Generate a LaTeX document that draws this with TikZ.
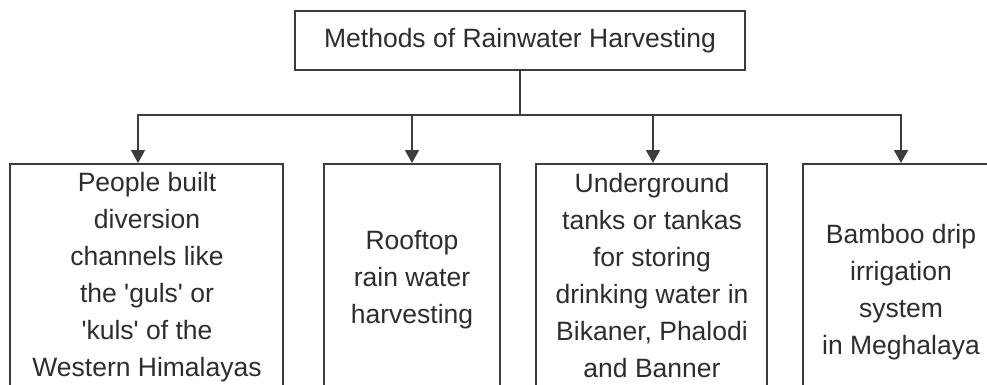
\documentclass[tikz,border=0pt]{standalone}
\usepackage{fontspec}
\setmainfont{Liberation Sans}
\usetikzlibrary{arrows.meta}
\definecolor{linegray}{RGB}{60,60,60}
\definecolor{textgray}{RGB}{45,45,45}
\tikzset{
    headbox/.style={
        draw=linegray,
        line width=1.6pt,
        minimum width=450pt,
        minimum height=59pt,
        inner sep=0pt
    },
    % the four method boxes run past the lower edge
    methodbox/.style={
        draw=linegray,
        line width=1.6pt,
        anchor=north,
        inner sep=0pt,
        minimum height=260pt
    },
    boxtext/.style={
        text=textgray,
        align=center,
        font=\fontsize{26.5}{37}\selectfont
    },
    downarrow/.style={
        line width=1.6pt,
        linegray,
        -{Triangle[length=13pt, width=14pt]}
    }
}

\begin{document}
\begin{tikzpicture}[x=1pt,y=-1pt]
   \useasboundingbox (0,0) rectangle (987,385);
   \clip (0,0) rectangle (987,385);
   \node[headbox, boxtext] (top) at (520,40.5) {Methods of Rainwater Harvesting};
   \coordinate (bar) at (520,115);
   % boxes
   \node[methodbox, minimum width=273pt] (b1) at (146.5,163) {};
   \node[methodbox, minimum width=176pt] (b2) at (412,163) {};
   \node[methodbox, minimum width=231pt] (b3) at (651.5,163) {};
   \node[methodbox, minimum width=194pt] (b4) at (900,163) {};
   \node[boxtext] (t1) at (147,277) {People built\\diversion\\channels like\\the \textquotesingle guls\textquotesingle{} or\\\textquotesingle kuls\textquotesingle{} of the\\Western Himalayas};
   \node[boxtext] (t2) at (412,280) {Rooftop\\rain water\\harvesting};
   \node[boxtext] (t3) at (652,276) {Underground\\tanks or tankas\\for storing\\drinking water in\\Bikaner, Phalodi\\and Banner};
   \node[boxtext] (t4) at (901,292) {Bamboo drip\\irrigation\\system\\in Meghalaya};
   % connectors
   \draw[line width=1.6pt, linegray] (top.south) -- (bar);
   \draw[downarrow] (bar) -| ([xshift=-8.5pt]b1.north);
   \draw[downarrow] (bar) -| (b2.north);
   \draw[downarrow] (bar) -| ([xshift=1.5pt]b3.north);
   \draw[downarrow] (bar) -| ([xshift=1pt]b4.north);
\end{tikzpicture}
\end{document}
